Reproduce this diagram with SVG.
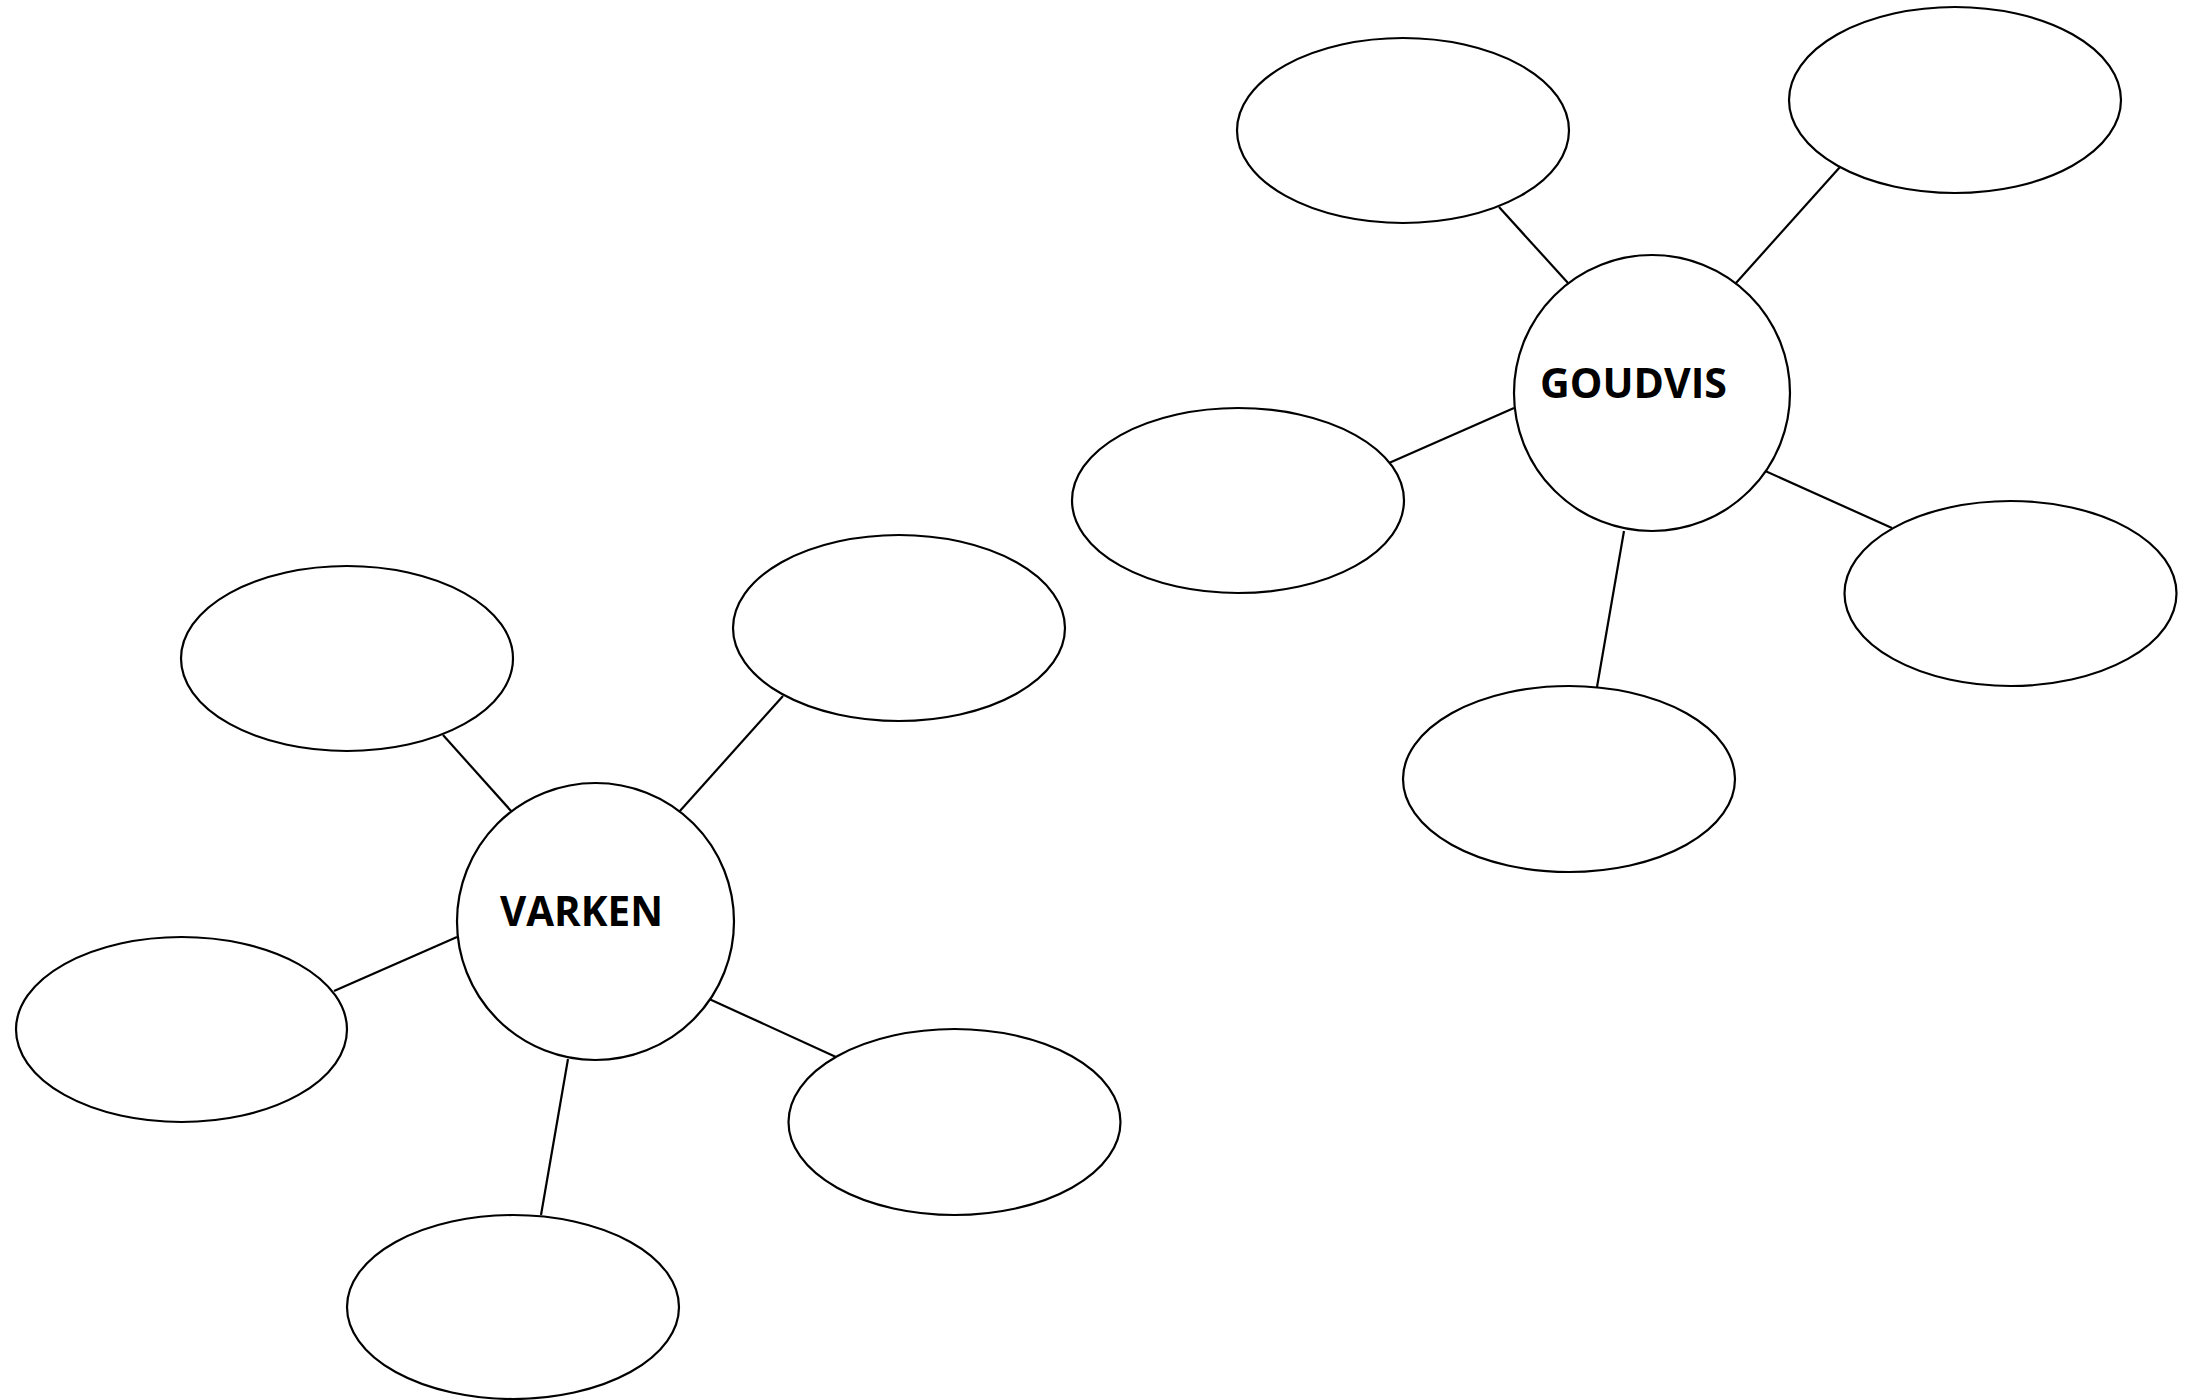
<svg xmlns="http://www.w3.org/2000/svg" width="2196" height="1400" viewBox="0 0 2196 1400">
<style>
.shape{fill:#fff;stroke:#000;stroke-width:2.2}
.conn line{stroke:#000;stroke-width:2.2}
.label{font-family:"Open Sans","Liberation Sans",sans-serif;font-weight:bold;font-size:42px;fill:#000}
</style>
<rect width="2196" height="1400" fill="#fff"/>
<g id="connectors" class="conn">
<line x1="1499" y1="207" x2="1568" y2="283"/>
<line x1="1840" y1="167" x2="1736" y2="283"/>
<line x1="1389" y1="463" x2="1514" y2="408"/>
<line x1="1892" y1="528" x2="1763" y2="470"/>
<line x1="1597" y1="687" x2="1624" y2="531"/>
<line x1="443" y1="735" x2="512" y2="812"/>
<line x1="783" y1="696" x2="679" y2="812"/>
<line x1="334" y1="991" x2="457" y2="937"/>
<line x1="836" y1="1057" x2="707" y2="998"/>
<line x1="541" y1="1215" x2="568" y2="1059"/>
</g>
<g id="goudvis"><circle class="shape" cx="1652" cy="393" r="138"/><text class="label" x="1540" y="398" textLength="187" lengthAdjust="spacingAndGlyphs">GOUDVIS</text></g>
<g id="g-topleft"><ellipse class="shape" cx="1403" cy="130.5" rx="166" ry="92.5"/></g>
<g id="g-topright"><ellipse class="shape" cx="1955" cy="100" rx="166" ry="93"/></g>
<g id="g-left"><ellipse class="shape" cx="1238" cy="500.5" rx="166" ry="92.5"/></g>
<g id="g-right"><ellipse class="shape" cx="2010.5" cy="593.5" rx="166" ry="92.5"/></g>
<g id="g-bottom"><ellipse class="shape" cx="1569" cy="779" rx="166" ry="93"/></g>
<g id="varken"><circle class="shape" cx="595.5" cy="921.5" r="138.5"/><text class="label" x="500" y="926" textLength="163" lengthAdjust="spacingAndGlyphs">VARKEN</text></g>
<g id="v-topleft"><ellipse class="shape" cx="347" cy="658.5" rx="166" ry="92.5"/></g>
<g id="v-topright"><ellipse class="shape" cx="899" cy="628" rx="166" ry="93"/></g>
<g id="v-left"><ellipse class="shape" cx="181.5" cy="1029.5" rx="165.5" ry="92.5"/></g>
<g id="v-right"><ellipse class="shape" cx="954.5" cy="1122" rx="166" ry="93"/></g>
<g id="v-bottom"><ellipse class="shape" cx="513" cy="1307" rx="166" ry="92"/></g>
</svg>
